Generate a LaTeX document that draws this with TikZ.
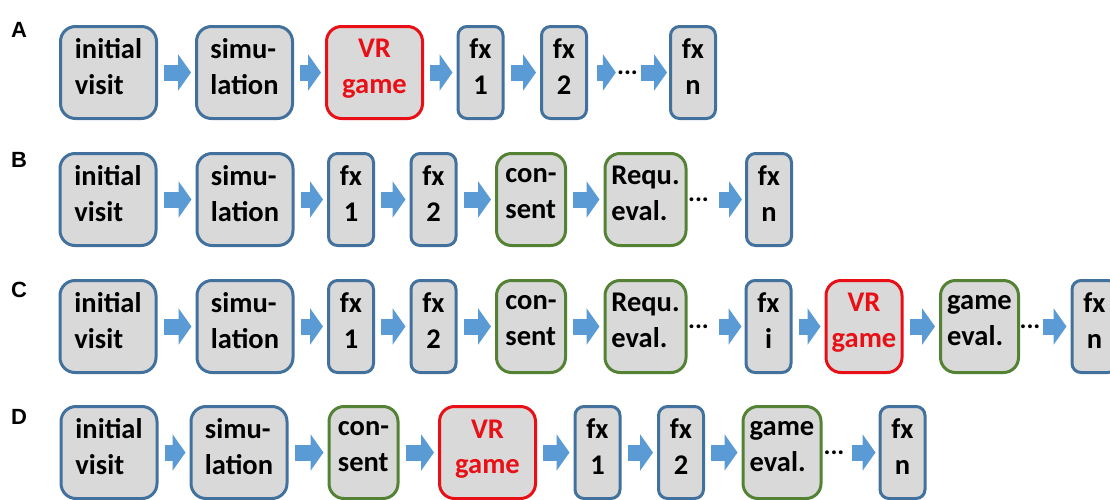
\documentclass[tikz,border=0pt]{standalone}
\usepackage{fontspec}
\setmainfont{Carlito}
\newfontfamily\labelfont{Liberation Sans}
\usepackage{xcolor}
\usepackage{tikz}
\usetikzlibrary{arrows.meta}

\definecolor{boxgray}{RGB}{217,217,217}
\definecolor{boxblue}{RGB}{65,113,156}
\definecolor{boxgreen}{RGB}{84,130,53}
\definecolor{boxred}{RGB}{232,16,22}
\definecolor{arrowblue}{RGB}{91,155,213}

\begin{document}
\begin{tikzpicture}[x=1pt, y=-1pt,
% common options for the boxes:
block/.style = {draw=boxblue, fill=boxgray, line width=3pt, rounded corners=15pt,
            align=left, minimum width=96pt, minimum height=92pt, inner sep=0,
            font=\bfseries\fontsize{28.5}{35.5}\selectfont,
            execute at end node={\rule[-12pt]{0pt}{0pt}}},
fxblock/.style = {block, rounded corners=9pt, align=center, minimum width=45pt},
greenblock/.style = {block, draw=boxgreen},
redblock/.style = {block, draw=boxred, text=boxred, align=center},
% the dots and the row letters:
dots/.style = {inner sep=1pt, text height=4.5pt, text depth=0pt,
            font=\bfseries\fontsize{26}{26}\selectfont},
rowlabel/.style = {inner sep=0, font=\labelfont\bfseries\fontsize{22}{22}\selectfont},
% common options for the arrows:
flow/.style = {draw=arrowblue, line width=16pt, -{Triangle[width=36pt,length=13pt]},
            shorten <=6pt, shorten >=4pt}]
\useasboundingbox (0,0) rectangle (1110,499);

% row A
\node[rowlabel] (LA) at (19,30) {A};
\node[block] (A1) at (108.5,72.5) {initial\\visit};
\node[block] (A2) at (244.5,72.5) {simu-\\lation};
\node[redblock] (A3) at (374.5,72.5) {VR\\game};
\node[fxblock] (A4) at (480.5,72.5) {fx\\1};
\node[fxblock] (A5) at (564,72.5) {fx\\2};
\node[dots] (Adots) at (627.5,72.5) {...};
\node[fxblock] (A6) at (693,72.5) {fx\\n};

% row B
\node[rowlabel] (LB) at (19,160) {B};
\node[block] (B1) at (108,199.5) {initial\\visit};
\node[block] (B2) at (245,199.5) {simu-\\lation};
\node[fxblock] (B3) at (351,199.5) {fx\\1};
\node[fxblock] (B4) at (433.5,199.5) {fx\\2};
\node[greenblock, minimum width=69pt] (B5) at (531,199.5) {con-\\sent};
\node[greenblock, minimum width=81pt] (B6) at (645.5,199.5) {Requ.\\eval.};
\node[dots] (Bdots) at (698.5,199.5) {...};
\node[fxblock] (B7) at (769,199.5) {fx\\n};

% row C
\node[rowlabel] (LC) at (19,290) {C};
\node[block] (C1) at (108,326.5) {initial\\visit};
\node[block] (C2) at (245,326.5) {simu-\\lation};
\node[fxblock] (C3) at (351,326.5) {fx\\1};
\node[fxblock] (C4) at (433.5,326.5) {fx\\2};
\node[greenblock, minimum width=69pt] (C5) at (531,326.5) {con-\\sent};
\node[greenblock, minimum width=81pt] (C6) at (645.5,326.5) {Requ.\\eval.};
\node[dots] (Cdots) at (698.5,326.5) {...};
\node[fxblock] (C7) at (768.5,326.5) {fx\\i};
\node[redblock, minimum width=76pt] (C8) at (864,326.5) {VR\\game};
\node[greenblock, minimum width=78pt] (C9) at (979.5,326.5) {game\\eval.};
\node[dots] (Cdots2) at (1030,326.5) {...};
\node[fxblock] (C10) at (1094.5,326.5) {fx\\n};

% row D
\node[rowlabel] (LD) at (19,417) {D};
\node[block] (D1) at (109,452.5) {initial\\visit};
\node[block] (D2) at (239,452.5) {simu-\\lation};
\node[greenblock, minimum width=69pt] (D3) at (363.5,452.5) {con-\\sent};
\node[redblock] (D4) at (487.5,452.5) {VR\\game};
\node[fxblock] (D5) at (597.5,452.5) {fx\\1};
\node[fxblock] (D6) at (681,452.5) {fx\\2};
\node[greenblock, minimum width=78pt] (D7) at (782,452.5) {game\\eval.};
\node[dots] (Ddots) at (834,452.5) {...};
\node[fxblock] (D8) at (902.5,452.5) {fx\\n};

% arrows
\draw[flow] (A1) -- (A2);
\draw[flow] (A2) -- (A3);
\draw[flow] (A3) -- (A4);
\draw[flow] (A4) -- (A5);
\draw[flow, shorten <=9pt, shorten >=0pt] (A5) -- (Adots);
\draw[flow, shorten <=2pt, shorten >=2pt] (Adots) -- (A6);

\draw[flow] (B1) -- (B2);
\draw[flow] (B2) -- (B3);
\draw[flow] (B3) -- (B4);
\draw[flow] (B4) -- (B5);
\draw[flow] (B5) -- (B6);
\draw[flow, shorten <=9pt, shorten >=3pt] (Bdots) -- (B7);

\draw[flow] (C1) -- (C2);
\draw[flow] (C2) -- (C3);
\draw[flow] (C3) -- (C4);
\draw[flow] (C4) -- (C5);
\draw[flow] (C5) -- (C6);
\draw[flow, shorten <=9pt, shorten >=3pt] (Cdots) -- (C7);
\draw[flow] (C7) -- (C8);
\draw[flow] (C8) -- (C9);
\draw[flow, shorten <=1pt, shorten >=4pt] (Cdots2) -- (C10);

\draw[flow] (D1) -- (D2);
\draw[flow] (D2) -- (D3);
\draw[flow] (D3) -- (D4);
\draw[flow] (D4) -- (D5);
\draw[flow] (D5) -- (D6);
\draw[flow] (D6) -- (D7);
\draw[flow, shorten <=6pt, shorten >=3pt] (Ddots) -- (D8);
\end{tikzpicture}
\end{document}
